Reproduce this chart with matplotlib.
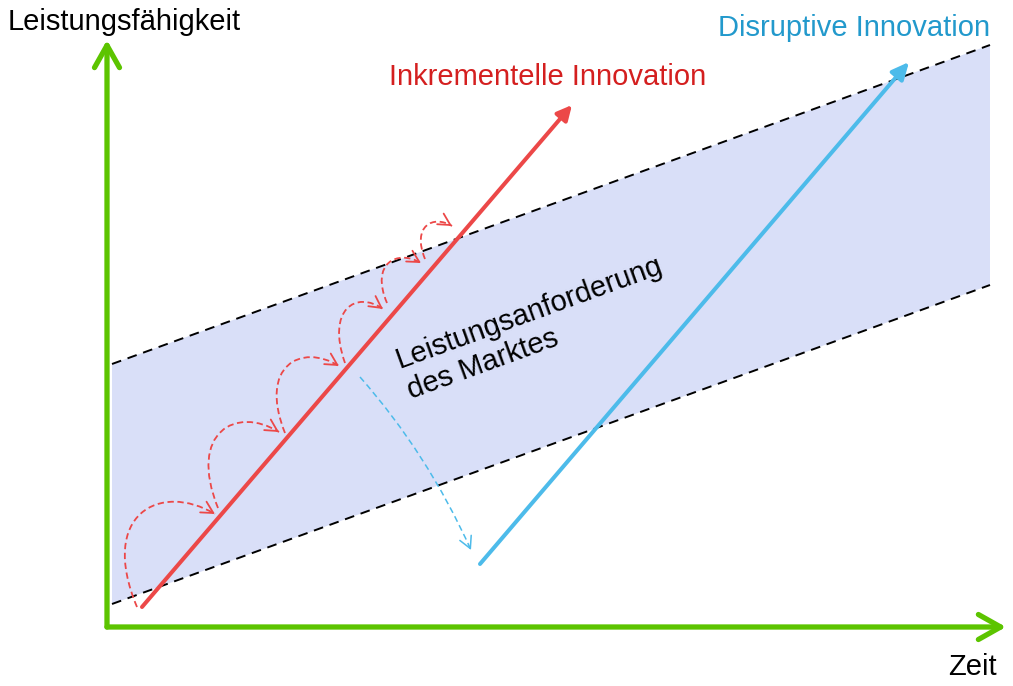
import numpy as np
import matplotlib
matplotlib.use("Agg")
import matplotlib.pyplot as plt
from matplotlib.patches import Polygon, FancyArrowPatch, PathPatch
from matplotlib.path import Path

plt.rcParams['font.family'] = ['Liberation Sans', 'DejaVu Sans']

# picture space: x to the right, y downwards (pixels of the 1013x686 canvas)
W, H = 1013, 686

# axes of the diagram
axis_origin = (107, 627)
y_axis_tip = (107, 40)
x_axis_tip = (1006, 627)

# market requirement band (left and right ends of the two dashed borders)
band_x = [112, 990]
band_upper = [364, 45]
band_lower = [604, 285]

# innovation trajectories
incremental_start = (142, 607)
incremental_end = (572, 105)
disruptive_start = (480, 564)
disruptive_end = (909, 62)

# incremental hops: start and end of each dashed curved arrow
hop_starts = [(137, 607), (218, 508), (285, 433), (345, 363), (387, 303), (425, 259)]
hop_ends = [(215, 514), (279, 432), (339, 366), (383, 309), (421, 263), (452, 226)]

# jump from the incremental line to the disruptive one
jump_start = (360, 377)
jump_end = (471, 550)

labels = {
    'y': 'Leistungsfähigkeit',
    'x': 'Zeit',
    'incremental': 'Inkrementelle Innovation',
    'disruptive': 'Disruptive Innovation',
    'band': 'Leistungsanforderung\ndes Marktes',
}

GREEN = '#5cc400'
RED = '#ec4848'
RED_TEXT = '#d41f1f'
BLUE = '#4dbbea'
BLUE_TEXT = '#2299cc'
BAND = '#d9dff8'

fig = plt.figure(figsize=(W / 100, H / 100), dpi=100)
ax = fig.add_axes([0, 0, 1, 1])
ax.set_xlim(0, W)
ax.set_ylim(H, 0)
ax.axis('off')

# band
band = Polygon([(band_x[0], band_upper[0]), (band_x[1], band_upper[1]),
                (band_x[1], band_lower[1]), (band_x[0], band_lower[0])],
               closed=True, facecolor=BAND, edgecolor='none', zorder=1)
ax.add_patch(band)
ax.plot(band_x, band_upper, color='black', lw=1.4, dashes=(5, 3.5), zorder=2)
ax.plot(band_x, band_lower, color='black', lw=1.4, dashes=(5, 3.5), zorder=2)

# axes arrows
for tip in (y_axis_tip, x_axis_tip):
    ax.add_patch(FancyArrowPatch(axis_origin, tip,
                                 arrowstyle='->,head_length=0.8,head_width=0.45',
                                 mutation_scale=20, color=GREEN, lw=3.8,
                                 capstyle='round', joinstyle='round',
                                 shrinkA=0, shrinkB=0, zorder=5))

# main trajectories
ax.add_patch(FancyArrowPatch(incremental_start, incremental_end,
                             arrowstyle='-|>,head_length=0.8,head_width=0.4',
                             mutation_scale=11, color=RED, lw=2.9,
                             shrinkA=0, shrinkB=0, zorder=4))
ax.add_patch(FancyArrowPatch(disruptive_start, disruptive_end,
                             arrowstyle='-|>,head_length=0.85,head_width=0.4',
                             mutation_scale=12, color=BLUE, lw=2.9,
                             shrinkA=0, shrinkB=0, zorder=4))


def dashed_arrow(verts, codes, color, lw, dashes):
    path = Path(verts, codes)
    ax.add_patch(PathPatch(path, facecolor='none', edgecolor=color, lw=lw,
                           linestyle=(0, dashes), zorder=3))
    # solid open head along the last tangent
    p_prev, p_end = np.array(verts[-2], float), np.array(verts[-1], float)
    d = p_end - p_prev
    d = d / np.hypot(*d)
    ax.add_patch(FancyArrowPatch(tuple(p_end - d * 3), tuple(p_end),
                                 arrowstyle='->,head_length=0.6,head_width=0.32',
                                 mutation_scale=14, color=color, lw=lw,
                                 shrinkA=0, shrinkB=0, zorder=3))


# incremental hops: rise almost vertically, come in almost horizontally
for (x0, y0), (x1, y1) in zip(hop_starts, hop_ends):
    dx, dy = x1 - x0, y0 - y1
    verts = [(x0, y0),
             (x0 - 0.5 * dx, y1),
             (x0 + 0.3 * dx, y1 - 0.35 * dy),
             (x1, y1)]
    dashed_arrow(verts, [Path.MOVETO, Path.CURVE4, Path.CURVE4, Path.CURVE4],
                 RED, 1.3, (3.5, 2))

# jump to the disruptive trajectory
jx = 0.5 * (jump_start[0] + jump_end[0]) + 12
jy = 0.5 * (jump_start[1] + jump_end[1]) - 10
dashed_arrow([jump_start, (jx, jy), jump_end],
             [Path.MOVETO, Path.CURVE3, Path.CURVE3],
             BLUE, 1.1, (4, 2.5))

# texts
FS = 21
ax.text(8, 30, labels['y'], fontsize=FS, color='black', ha='left', va='baseline')
ax.text(997, 675, labels['x'], fontsize=FS, color='black', ha='right', va='baseline')
ax.text(389, 85, labels['incremental'], fontsize=FS, color=RED_TEXT,
        ha='left', va='baseline')
ax.text(990, 36, labels['disruptive'], fontsize=FS, color=BLUE_TEXT,
        ha='right', va='baseline')
# anchored at the start of the second line's baseline
ax.text(409, 395, labels['band'], fontsize=FS, color='black', rotation=20,
        rotation_mode='anchor', ha='left', va='baseline',
        multialignment='left', linespacing=1.2, zorder=6)

fig.savefig('out.png', dpi=100)
